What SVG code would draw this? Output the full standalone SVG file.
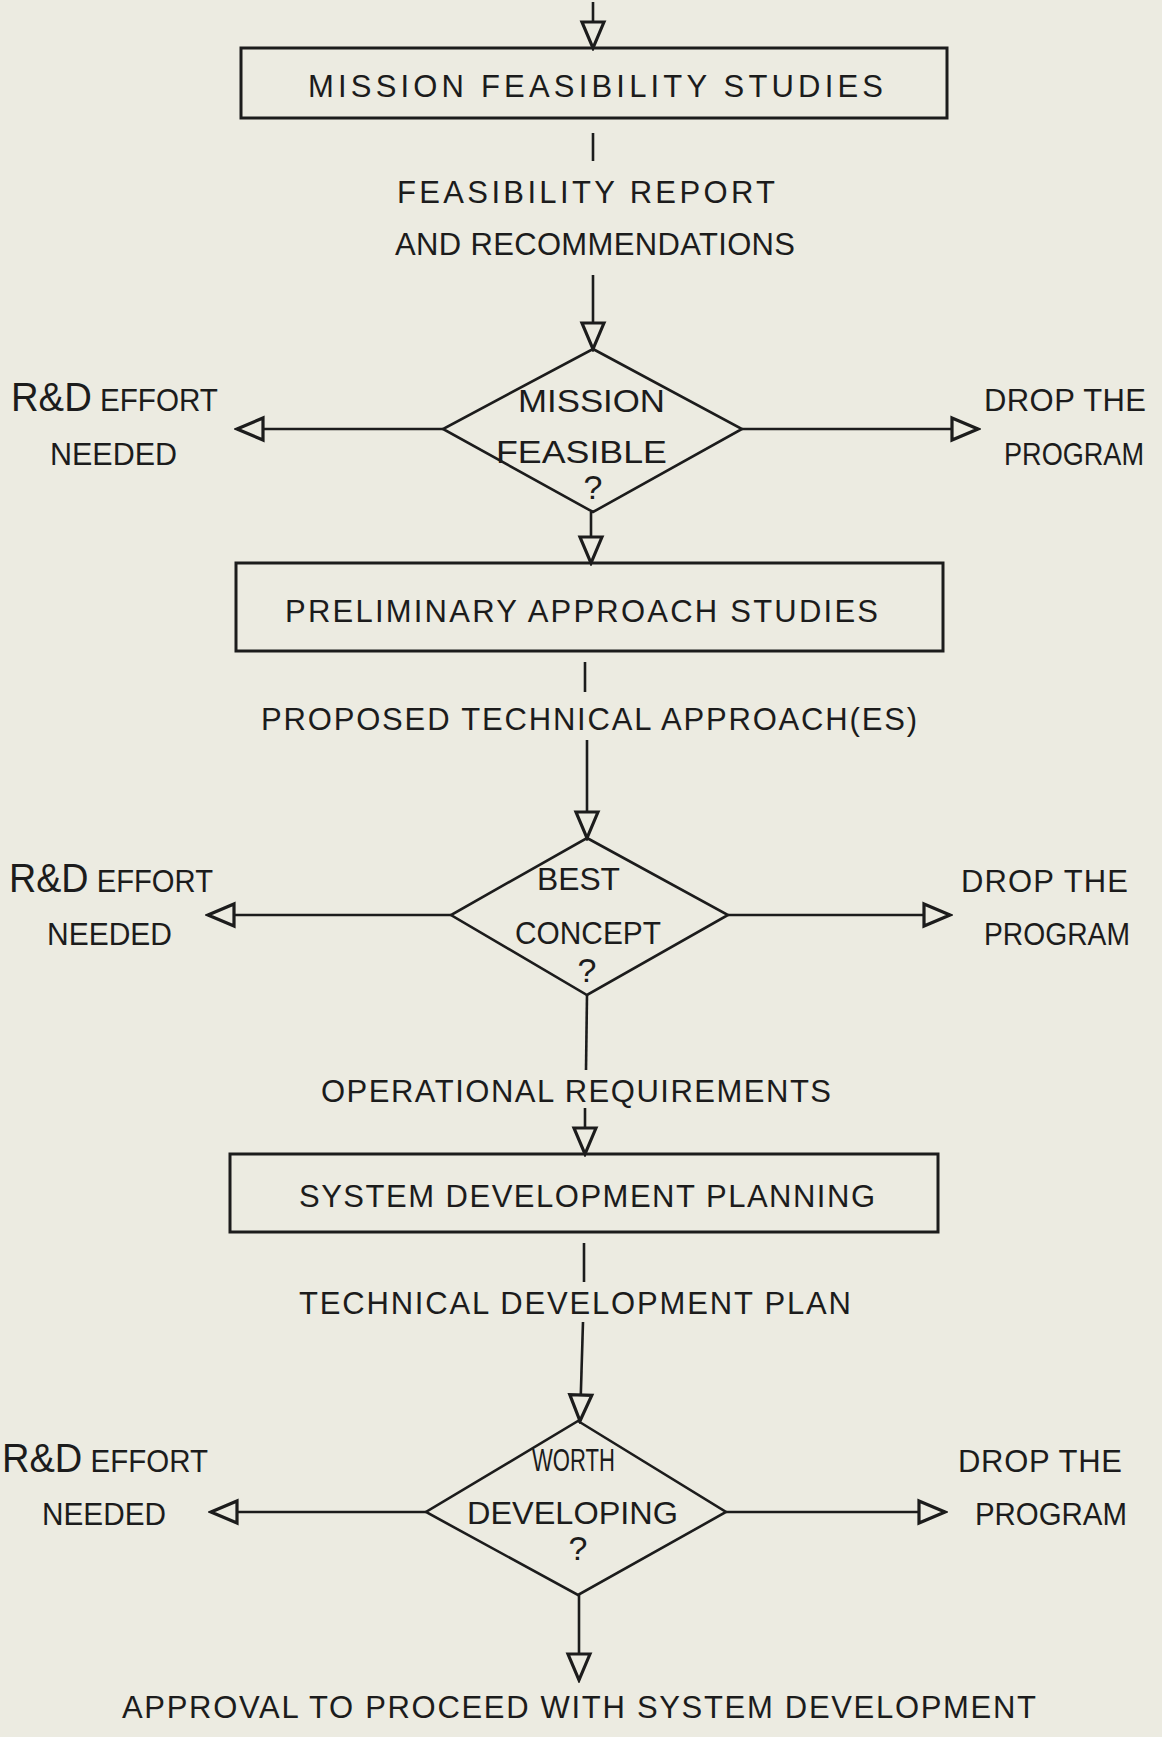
<svg xmlns="http://www.w3.org/2000/svg" width="1162" height="1737" viewBox="0 0 1162 1737">
<defs>
<style>
.bg{fill:#ecebe1}
.box{fill:none;stroke:#1c1c1c;stroke-width:3}
.dia{fill:none;stroke:#1c1c1c;stroke-width:2.6}
.ln{fill:none;stroke:#1c1c1c;stroke-width:2.6}
.arr{marker-end:url(#open)}
text{font-family:"Liberation Sans",Arial,sans-serif;fill:#1c1c1c;font-size:31px}
.big{font-size:40px}
.q{font-size:34px}
</style>
<marker id="open" markerUnits="userSpaceOnUse" viewBox="-3 -3 32 28" markerWidth="32" markerHeight="28" refX="26" refY="11" orient="auto">
<path d="M0,0 L26,11 L0,22 Z" fill="#ecebe1" stroke="#1c1c1c" stroke-width="3.2" stroke-linejoin="miter"/>
</marker>
</defs>
<rect class="bg" x="0" y="0" width="1162" height="1737"/>

<g id="connectors">
<line class="ln arr" x1="593" y1="2" x2="593" y2="48"/>
<line class="ln" x1="593" y1="133" x2="593" y2="161"/>
<line class="ln arr" x1="593" y1="275" x2="593" y2="349"/>
<line class="ln arr" x1="443" y1="429" x2="237" y2="429"/>
<line class="ln arr" x1="742" y1="429" x2="978" y2="429"/>
<line class="ln arr" x1="591" y1="512" x2="591" y2="563"/>
<line class="ln" x1="585" y1="662" x2="585" y2="692"/>
<line class="ln arr" x1="587" y1="740" x2="587" y2="838"/>
<line class="ln arr" x1="451" y1="915" x2="208" y2="915"/>
<line class="ln arr" x1="728" y1="915" x2="950" y2="915"/>
<line class="ln" x1="587" y1="995" x2="586" y2="1070"/>
<line class="ln arr" x1="585" y1="1108" x2="585" y2="1154"/>
<line class="ln" x1="584" y1="1243" x2="584" y2="1282"/>
<line class="ln arr" x1="583" y1="1322" x2="580" y2="1421"/>
<line class="ln arr" x1="426" y1="1512" x2="211" y2="1512"/>
<line class="ln arr" x1="726" y1="1512" x2="945" y2="1512"/>
<line class="ln arr" x1="579" y1="1595" x2="579" y2="1680"/>
</g>

<g id="mission-feasibility-studies">
<rect class="box" x="241" y="48" width="706" height="70"/>
<text x="308" y="97" textLength="575" lengthAdjust="spacing">MISSION FEASIBILITY STUDIES</text>
</g>

<g id="label-feasibility-report">
<text x="397" y="203" textLength="378" lengthAdjust="spacing">FEASIBILITY REPORT</text>
<text x="395" y="255" textLength="400" lengthAdjust="spacing">AND RECOMMENDATIONS</text>
</g>

<g id="mission-feasible">
<polygon class="dia" points="593,349 742,429 593,512 443,429"/>
<text x="518" y="412" textLength="147" lengthAdjust="spacingAndGlyphs">MISSION</text>
<text x="496" y="463" textLength="171" lengthAdjust="spacingAndGlyphs">FEASIBLE</text>
<text class="q" x="593" y="499" text-anchor="middle">?</text>
</g>

<g id="rd-effort-1">
<text x="11" y="411" textLength="207" lengthAdjust="spacingAndGlyphs"><tspan class="big">R&amp;D</tspan> EFFORT</text>
<text x="50" y="465" textLength="127" lengthAdjust="spacingAndGlyphs">NEEDED</text>
</g>

<g id="drop-program-1">
<text x="984" y="411" textLength="162" lengthAdjust="spacing">DROP THE</text>
<text x="1004" y="465" textLength="140" lengthAdjust="spacingAndGlyphs">PROGRAM</text>
</g>

<g id="preliminary-approach-studies">
<rect class="box" x="236" y="563" width="707" height="88"/>
<text x="285" y="622" textLength="593" lengthAdjust="spacing">PRELIMINARY APPROACH STUDIES</text>
</g>

<g id="label-proposed-approach">
<text x="261" y="730" textLength="656" lengthAdjust="spacing">PROPOSED TECHNICAL APPROACH(ES)</text>
</g>

<g id="best-concept">
<polygon class="dia" points="587,838 728,915 587,995 451,915"/>
<text x="537" y="890" textLength="83" lengthAdjust="spacingAndGlyphs">BEST</text>
<text x="515" y="944" textLength="146" lengthAdjust="spacingAndGlyphs">CONCEPT</text>
<text class="q" x="587" y="982" text-anchor="middle">?</text>
</g>

<g id="rd-effort-2">
<text x="9" y="892" textLength="204" lengthAdjust="spacingAndGlyphs"><tspan class="big">R&amp;D</tspan> EFFORT</text>
<text x="47" y="945" textLength="125" lengthAdjust="spacingAndGlyphs">NEEDED</text>
</g>

<g id="drop-program-2">
<text x="961" y="892" textLength="167" lengthAdjust="spacing">DROP THE</text>
<text x="984" y="945" textLength="146" lengthAdjust="spacingAndGlyphs">PROGRAM</text>
</g>

<g id="label-operational-requirements">
<text x="321" y="1102" textLength="510" lengthAdjust="spacing">OPERATIONAL REQUIREMENTS</text>
</g>

<g id="system-development-planning">
<rect class="box" x="230" y="1154" width="708" height="78"/>
<text x="299" y="1207" textLength="576" lengthAdjust="spacing">SYSTEM DEVELOPMENT PLANNING</text>
</g>

<g id="label-technical-development-plan">
<text x="299" y="1314" textLength="552" lengthAdjust="spacing">TECHNICAL DEVELOPMENT PLAN</text>
</g>

<g id="worth-developing">
<polygon class="dia" points="578,1421 726,1512 578,1595 426,1512"/>
<text x="532" y="1471" textLength="83" lengthAdjust="spacingAndGlyphs">WORTH</text>
<text x="467" y="1524" textLength="211" lengthAdjust="spacingAndGlyphs">DEVELOPING</text>
<text class="q" x="578" y="1560" text-anchor="middle">?</text>
</g>

<g id="rd-effort-3">
<text x="2" y="1472" textLength="206" lengthAdjust="spacingAndGlyphs"><tspan class="big">R&amp;D</tspan> EFFORT</text>
<text x="42" y="1525" textLength="124" lengthAdjust="spacingAndGlyphs">NEEDED</text>
</g>

<g id="drop-program-3">
<text x="958" y="1472" textLength="164" lengthAdjust="spacing">DROP THE</text>
<text x="975" y="1525" textLength="152" lengthAdjust="spacingAndGlyphs">PROGRAM</text>
</g>

<g id="label-approval">
<text x="122" y="1718" textLength="914" lengthAdjust="spacing">APPROVAL TO PROCEED WITH SYSTEM DEVELOPMENT</text>
</g>
</svg>
